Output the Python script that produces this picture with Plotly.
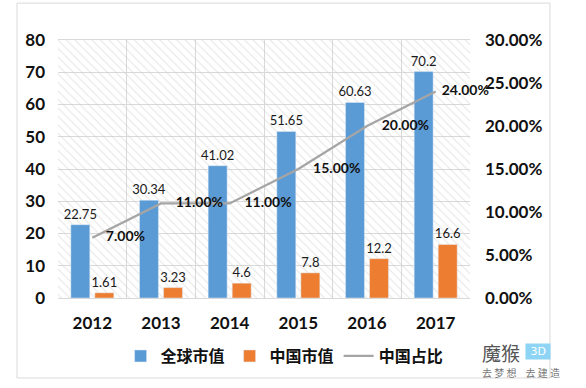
import plotly.graph_objects as go

years = ["2012", "2013", "2014", "2015", "2016", "2017"]
global_value = [22.75, 30.34, 41.02, 51.65, 60.63, 70.2]
china_value = [1.61, 3.23, 4.6, 7.8, 12.2, 16.6]
china_share = [0.07, 0.11, 0.11, 0.15, 0.20, 0.24]
left_ticks = [0, 10, 20, 30, 40, 50, 60, 70, 80]
right_ticks = [0, 0.05, 0.10, 0.15, 0.20, 0.25, 0.30]

NUM_FONT = "Lato"
CJK_FONT = "Noto Sans CJK SC"

fig = go.Figure()

# hatched plot background
fig.add_trace(go.Bar(
    x=[0.5], y=[1], width=[1], xaxis="x", yaxis="y",
    marker=dict(color="rgba(0,0,0,0)", line=dict(width=0),
                pattern=dict(shape="\\", fgcolor="#CBCBCB", bgcolor="rgba(0,0,0,0)",
                             size=6, solidity=0.17)),
    showlegend=False, hoverinfo="skip",
))

fig.add_trace(go.Bar(
    name="全球市值", x=years, y=global_value, xaxis="x2", yaxis="y2",
    marker=dict(color="#5B9BD5"),
    text=[f"{v:g}" for v in global_value], textposition="outside",
    constraintext="none",
    textfont=dict(family=NUM_FONT, size=13, color="#1a1a1a"),
    cliponaxis=False,
))
fig.add_trace(go.Bar(
    name="中国市值", x=years, y=china_value, xaxis="x2", yaxis="y2",
    marker=dict(color="#ED7D31"),
    text=[f"{v:g}" for v in china_value], textposition="outside",
    constraintext="none",
    textfont=dict(family=NUM_FONT, size=13, color="#1a1a1a"),
    cliponaxis=False,
))
fig.add_trace(go.Scatter(
    name="中国占比", x=years, y=china_share, xaxis="x2", yaxis="y3",
    mode="lines+markers+text",
    line=dict(color="#A5A5A5", width=2.25),
    marker=dict(size=[20, 22, 22, 22, 22, 8], color="rgba(0,0,0,0)",
                line=dict(width=0, color="rgba(0,0,0,0)")),
    text=[f"{v:.2%}" for v in china_share], textposition="middle right",
    textfont=dict(family=NUM_FONT, size=14, color="#111111", weight="bold"),
    cliponaxis=False,
))

grid = "#D9D9D9"
fig.update_layout(
    width=586, height=388,
    margin=dict(l=58, r=116, t=40, b=90),
    paper_bgcolor="white", plot_bgcolor="white",
    barmode="group", bargap=0.30, bargroupgap=0.21,
    xaxis=dict(range=[0, 1], visible=False, fixedrange=True),
    yaxis=dict(range=[0, 1], visible=False, fixedrange=True),
    xaxis2=dict(overlaying="x", type="category", tickson="boundaries",
                showgrid=True, gridcolor=grid, gridwidth=1,
                showline=True, linecolor=grid, linewidth=1, mirror=True,
                ticks="", ticklabelstandoff=10,
                tickfont=dict(family=NUM_FONT, size=17, color="#111111", weight="bold")),
    yaxis2=dict(overlaying="y", side="left", range=[0, 80], tickvals=left_ticks,
                showgrid=True, gridcolor=grid, gridwidth=1, zeroline=False,
                ticks="", ticklabelstandoff=12,
                tickfont=dict(family=NUM_FONT, size=17, color="#111111", weight="bold")),
    yaxis3=dict(overlaying="y", side="right", range=[0, 0.30], tickvals=right_ticks,
                tickformat=".2%", showgrid=False, zeroline=False,
                ticks="", ticklabelstandoff=14,
                tickfont=dict(family=NUM_FONT, size=17, color="#111111", weight="bold")),
    legend=dict(orientation="h", x=0.55, xanchor="center", y=-0.225, yanchor="middle",
                font=dict(family=CJK_FONT, size=16, color="#111111", weight="bold"),
                itemwidth=30, traceorder="normal", bgcolor="rgba(0,0,0,0)"),
    showlegend=True,
    shapes=[dict(type="rect", xref="paper", yref="paper",
                 x0=-0.0995, x1=1.194, y0=-0.31, y1=1.143,
                 line=dict(color="#D9D9D9", width=1), fillcolor="rgba(0,0,0,0)", layer="below")],
    annotations=[
        dict(text="魔猴", xref="paper", yref="paper", x=(480 - 58) / 412, y=(298 - 352) / 258,
             xanchor="left", yanchor="middle", showarrow=False,
             font=dict(family=CJK_FONT, size=19, color="#555555")),
        dict(text=" 3D ", xref="paper", yref="paper", x=(525 - 58) / 412, y=(298 - 351) / 258,
             xanchor="left", yanchor="middle", showarrow=False, bgcolor="#8DD4F5",
             font=dict(family="DejaVu Sans", size=11, color="white")),
        dict(text="去 梦 想    去 建 造", xref="paper", yref="paper", x=(480 - 58) / 412,
             y=(298 - 372) / 258, xanchor="left", yanchor="middle", showarrow=False,
             font=dict(family=CJK_FONT, size=10, color="#777777")),
    ],
)

fig.write_html("out.html", config={"displayModeBar": False},
               post_script="document.body.style.margin='0px';")
